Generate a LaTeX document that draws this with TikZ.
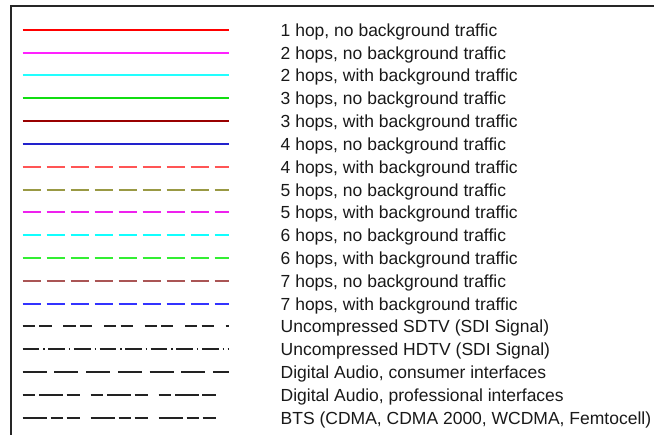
\documentclass[tikz,border=0pt]{standalone}
\usepackage{fontspec}
\setmainfont{Liberation Sans}
\usetikzlibrary{positioning}

\definecolor{HopRed}{HTML}{FF0000}
\definecolor{HopPink}{HTML}{FF22FF}
\definecolor{HopCyan}{HTML}{22FFFF}
\definecolor{HopGreen}{HTML}{11DD11}
\definecolor{HopDarkRed}{HTML}{990000}
\definecolor{HopDarkBlue}{HTML}{2222CC}
\definecolor{HopLightRed}{HTML}{FF5555}
\definecolor{HopOlive}{HTML}{999944}
\definecolor{HopMagenta}{HTML}{EE22EE}
\definecolor{HopLightCyan}{HTML}{11FFFF}
\definecolor{HopLightGreen}{HTML}{33EE33}
\definecolor{HopBrown}{HTML}{AA5555}
\definecolor{HopBlue}{HTML}{3333FF}
\definecolor{HopBlack}{HTML}{222222}

% row k of the legend, snapped to whole pixels
\pgfmathdeclarefunction{rowy}{1}{\pgfmathparse{round(29.8+#1*22.82)}}

\tikzset{
	sample/.style={line width=1.8pt},
	hopdash/.style={sample, dash pattern=on 18pt off 6pt},
	lbl/.style={anchor=base west, inner sep=0pt, text=black!90, font=\fontsize{17.5}{21}\selectfont}
}

\begin{document}
\begin{tikzpicture}[x=1pt, y=-1pt]
			\pgfmathsetmacro{\LineStart}{22.7}
			\pgfmathsetmacro{\LineLength}{206.3}
			\pgfmathsetmacro{\ShortLength}{194.3}
			\pgfmathsetmacro{\TextX}{280.5}
			\pgfmathsetmacro{\BaseDrop}{7}
			\useasboundingbox (0,0) rectangle (654,435);
			
			% FRAME
			\draw[line width=1.6pt, black!85] (654,6) -- (11,6) -- (11,435);
			
			% SOLID LINES
			\draw[sample, HopRed] (\LineStart,{rowy(0)}) -- ++(\LineLength,0);
			\node[lbl] (LblA) at (\TextX,{rowy(0)+\BaseDrop}) {1 hop, no background traffic};
			\draw[sample, HopPink] (\LineStart,{rowy(1)}) -- ++(\LineLength,0);
			\node[lbl] (LblB) at (\TextX,{rowy(1)+\BaseDrop}) {2 hops, no background traffic};
			\draw[sample, HopCyan] (\LineStart,{rowy(2)}) -- ++(\LineLength,0);
			\node[lbl] (LblC) at (\TextX,{rowy(2)+\BaseDrop}) {2 hops, with background traffic};
			\draw[sample, HopGreen] (\LineStart,{rowy(3)}) -- ++(\LineLength,0);
			\node[lbl] (LblD) at (\TextX,{rowy(3)+\BaseDrop}) {3 hops, no background traffic};
			\draw[sample, HopDarkRed] (\LineStart,{rowy(4)}) -- ++(\LineLength,0);
			\node[lbl] (LblE) at (\TextX,{rowy(4)+\BaseDrop}) {3 hops, with background traffic};
			\draw[sample, HopDarkBlue] (\LineStart,{rowy(5)}) -- ++(\LineLength,0);
			\node[lbl] (LblF) at (\TextX,{rowy(5)+\BaseDrop}) {4 hops, no background traffic};
			
			% DASHED LINES
			\draw[hopdash, HopLightRed] (\LineStart,{rowy(6)}) -- ++(\LineLength,0);
			\node[lbl] (LblG) at (\TextX,{rowy(6)+\BaseDrop}) {4 hops, with background traffic};
			\draw[hopdash, HopOlive] (\LineStart,{rowy(7)}) -- ++(\LineLength,0);
			\node[lbl] (LblH) at (\TextX,{rowy(7)+\BaseDrop}) {5 hops, no background traffic};
			\draw[hopdash, HopMagenta] (\LineStart,{rowy(8)}) -- ++(\LineLength,0);
			\node[lbl] (LblI) at (\TextX,{rowy(8)+\BaseDrop}) {5 hops, with background traffic};
			\draw[hopdash, HopLightCyan] (\LineStart,{rowy(9)}) -- ++(\LineLength,0);
			\node[lbl] (LblJ) at (\TextX,{rowy(9)+\BaseDrop}) {6 hops, no background traffic};
			\draw[hopdash, HopLightGreen] (\LineStart,{rowy(10)}) -- ++(\LineLength,0);
			\node[lbl] (LblK) at (\TextX,{rowy(10)+\BaseDrop}) {6 hops, with background traffic};
			\draw[hopdash, HopBrown] (\LineStart,{rowy(11)}) -- ++(\LineLength,0);
			\node[lbl] (LblL) at (\TextX,{rowy(11)+\BaseDrop}) {7 hops, no background traffic};
			\draw[hopdash, HopBlue] (\LineStart,{rowy(12)}) -- ++(\LineLength,0);
			\node[lbl] (LblM) at (\TextX,{rowy(12)+\BaseDrop}) {7 hops, with background traffic};
			
			% BLACK PATTERNS
			\draw[sample, HopBlack, dash pattern=on 12.3pt off 4.3pt on 12.3pt off 11.7pt] (\LineStart,{rowy(13)}) -- ++(\LineLength,0);
			\node[lbl] (LblN) at (\TextX,{rowy(13)+\BaseDrop}) {Uncompressed SDTV (SDI Signal)};
			\draw[sample, HopBlack, dash pattern=on 16.6pt off 4pt on 1.4pt off 3.6pt] (\LineStart,{rowy(14)}) -- ++(\LineLength,0);
			\node[lbl] (LblO) at (\TextX,{rowy(14)+\BaseDrop}) {Uncompressed HDTV (SDI Signal)};
			\draw[sample, HopBlack, dash pattern=on 24pt off 7.7pt] (\LineStart,{rowy(15)}) -- ++(\LineLength,0);
			\node[lbl] (LblP) at (\TextX,{rowy(15)+\BaseDrop}) {Digital Audio, consumer interfaces};
			\draw[sample, HopBlack, dash pattern=on 12.3pt off 4.3pt on 24pt off 3.3pt on 13.3pt off 10.7pt] (\LineStart,{rowy(16)}) -- ++(\ShortLength,0);
			\node[lbl] (LblQ) at (\TextX,{rowy(16)+\BaseDrop}) {Digital Audio, professional interfaces};
			\draw[sample, HopBlack, dash pattern=on 24pt off 4pt on 12pt off 4pt on 13.3pt off 10.7pt] (\LineStart,{rowy(17)}) -- ++(\ShortLength,0);
			\node[lbl] (LblR) at (\TextX,{rowy(17)+\BaseDrop}) {BTS (CDMA, CDMA 2000, WCDMA, Femtocell)};
		\end{tikzpicture}
\end{document}
